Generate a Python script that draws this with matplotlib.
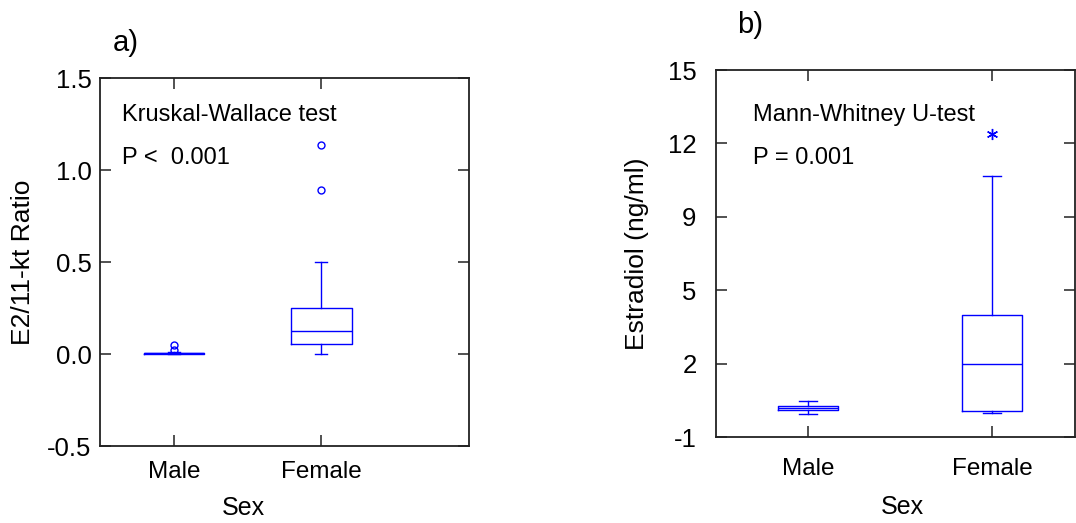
"""
Box plots: E2/11-kt ratio and estradiol by sex
"""
import matplotlib
matplotlib.use('Agg')
import matplotlib.pyplot as plt

plt.rcParams['font.family'] = ['Liberation Sans', 'DejaVu Sans']

BLUE = "#0000FF"

# Panel a: E2/11-kt ratio
groups = ["Male", "Female"]
ratio_q1 = [0.002, 0.056]
ratio_med = [0.005, 0.125]
ratio_q3 = [0.008, 0.25]
ratio_lo = [0.0, 0.0]
ratio_hi = [0.01, 0.5]
ratio_fliers = [[0.049, 0.022], [1.134, 0.893]]
ratio_yticks = [-0.5, 0.0, 0.5, 1.0, 1.5]

# Panel b: estradiol (ng/ml)
estr_q1 = [0.18, 0.15]
estr_med = [0.26, 2.2]
estr_q3 = [0.36, 4.32]
estr_lo = [0.02, 0.03]
estr_hi = [0.57, 10.4]
estr_fliers = [[], [12.2]]
estr_yticks = [-1, 2.2, 5.4, 8.6, 11.8, 15]


def make_stats(q1, med, q3, lo, hi, fliers):
    return [dict(q1=a, med=m, q3=b, whislo=l, whishi=h, fliers=f, label=g)
            for a, m, b, l, h, f, g in zip(q1, med, q3, lo, hi, fliers, groups)]


def style_axes(ax, ypad, xpad):
    for sp in ax.spines.values():
        sp.set_linewidth(1.3)
        sp.set_color('#222222')
    ax.tick_params(direction='in', length=8, width=1.1, top=True, right=True,
                   labelsize=17.5, color='#222222')
    ax.tick_params(axis='y', pad=ypad, labelsize=18.5)
    ax.tick_params(axis='x', pad=xpad)


fig = plt.figure(figsize=(10.76, 5.23), dpi=100)

line_kw = dict(boxprops=dict(color=BLUE, linewidth=1.0),
               medianprops=dict(color=BLUE, linewidth=1.0),
               whiskerprops=dict(color=BLUE, linewidth=1.0),
               capprops=dict(color=BLUE, linewidth=1.0))

# ---- a)
ax1 = fig.add_axes([0.0929, 0.1472, 0.343, 0.7036])
ax1.bxp(make_stats(ratio_q1, ratio_med, ratio_q3, ratio_lo, ratio_hi, ratio_fliers),
        positions=[1, 2], widths=0.41, capwidths=0.08,
        flierprops=dict(marker='o', markerfacecolor='none', markeredgecolor=BLUE,
                        markersize=5, markeredgewidth=1.0, linestyle='none'),
        **line_kw)
ax1.set_xlim(0.5, 3.0)
ax1.set_ylim(-0.5, 1.5)
ax1.set_yticks(ratio_yticks)
ax1.set_yticklabels([f"{v:.1f}" for v in ratio_yticks])
ax1.set_xticks([1, 2])
ax1.set_xticklabels(groups)
style_axes(ax1, 6, 11)
ax1.set_ylabel("E2/11-kt Ratio", fontsize=19)
ax1.yaxis.label.set_va('center')
ax1.yaxis.set_label_coords(-0.209, 0.5)
ax1.set_xlabel("Sex", fontsize=18)
ax1.xaxis.set_label_coords(0.3875, -0.168)
ax1.xaxis.label.set_va('center')
ax1.text(0.06, 0.899, "Kruskal-Wallace test", transform=ax1.transAxes,
         fontsize=17, va='center', ha='left')
ax1.text(0.06, 0.783, "P <  0.001", transform=ax1.transAxes,
         fontsize=17, va='center', ha='left')
fig.text(0.105, 0.918, "a)", fontsize=21, va='center', ha='left')

# ---- b)
ax2 = fig.add_axes([0.6654, 0.1644, 0.3336, 0.7017])
ax2.bxp(make_stats(estr_q1, estr_med, estr_q3, estr_lo, estr_hi, estr_fliers),
        positions=[1, 2], widths=0.33, capwidths=0.1,
        flierprops=dict(marker=(6, 2, 0), markeredgecolor=BLUE, markersize=8,
                        markeredgewidth=1.0, linestyle='none'),
        **line_kw)
ax2.set_xlim(0.5, 2.45)
ax2.set_ylim(-1, 15)
ax2.set_yticks(estr_yticks)
ax2.set_yticklabels([f"{round(v):d}" for v in estr_yticks])
ax2.set_xticks([1, 2])
ax2.set_xticklabels(groups)
style_axes(ax2, 14, 15)
ax2.set_ylabel("Estradiol (ng/ml)", fontsize=19)
ax2.yaxis.label.set_va('center')
ax2.yaxis.set_label_coords(-0.22, 0.5)
ax2.set_xlabel("Sex", fontsize=18)
ax2.xaxis.set_label_coords(0.518, -0.191)
ax2.xaxis.label.set_va('center')
ax2.text(0.103, 0.877, "Mann-Whitney U-test", transform=ax2.transAxes,
         fontsize=17, va='center', ha='left')
ax2.text(0.103, 0.760, "P = 0.001", transform=ax2.transAxes,
         fontsize=17, va='center', ha='left')
fig.text(0.685, 0.952, "b)", fontsize=21, va='center', ha='left')

fig.savefig("out.png", dpi=100)
plt.close(fig)
